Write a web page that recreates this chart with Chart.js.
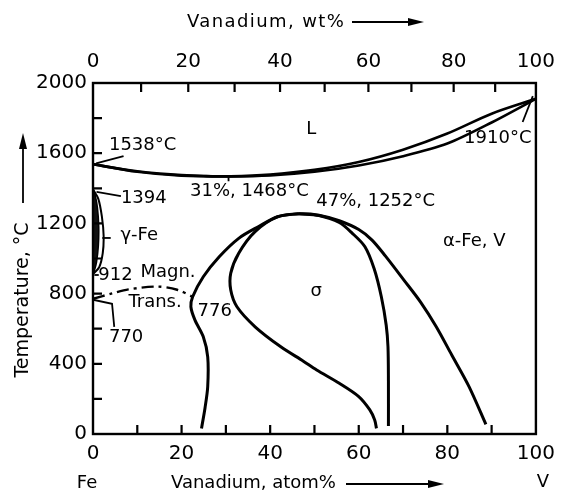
<!DOCTYPE html>
<html>
<head>
<meta charset="utf-8">
<script src="https://cdn.jsdelivr.net/npm/chart.js@4/dist/chart.umd.min.js"></script>
<style>
html,body{margin:0;padding:0;background:#fff;}
#wrap{position:relative;width:564px;height:495px;}
</style>
</head>
<body>
<div id="wrap"><canvas id="chart" width="564" height="495"></canvas></div>
<script>
// Fe-V phase diagram, x = atom% V, y = temperature in degC
const liquidusAt = [0, 5, 10, 15, 20, 25, 31, 40, 50, 60, 70, 80, 90, 100];
const liquidusT  = [1538, 1515, 1497, 1484, 1475, 1470, 1468, 1478, 1505, 1550, 1620, 1712, 1825, 1910];
const solidusAt  = [0, 10, 20, 31, 40, 50, 60, 70, 80, 90, 100];
const solidusT   = [1538, 1494, 1472, 1468, 1473, 1494, 1530, 1583, 1655, 1775, 1910];

const gammaInnerAt = [0, 0.5, 1.0, 1.3, 1.2, 0.8, 0.3, 0, 0];
const gammaInnerT  = [1394, 1360, 1290, 1180, 1070, 980, 930, 912, 1394];
const gammaOuterAt = [0, 1.2, 2.0, 2.4, 2.2, 1.4, 0];
const gammaOuterT  = [1394, 1340, 1240, 1130, 1030, 950, 912];

const alphaSigmaAt = [24.5, 25.3, 25.9, 25.9, 24.9, 23.0, 22.1, 22.5, 24.9, 28.5, 32.9, 37.3, 41.7, 46.5, 51, 55.6, 60, 63, 66, 70.2, 74, 77.5, 81, 84.9, 88.7];
const alphaSigmaT  = [32, 150, 270, 440, 554, 650, 725, 782, 896, 1010, 1115, 1181, 1238, 1255, 1247, 1215, 1165, 1105, 1015, 877, 750, 611, 450, 270, 55];

const sigmaLeftAt = [64, 63.6, 62.5, 60, 55.6, 50.5, 47.5, 42.4, 36.6, 32.5, 31.1, 31.1, 32.9, 36.6, 41.7, 46.5];
const sigmaLeftT  = [32, 80, 137, 213, 289, 365, 415, 497, 611, 725, 820, 916, 1030, 1153, 1238, 1255];
const sigmaRightAt = [46.5, 51, 55.6, 58.5, 61.4, 63.5, 65.1, 66.2, 66.6, 66.7, 66.7];
const sigmaRightT  = [1255, 1245, 1205, 1145, 1067, 940, 782, 620, 497, 300, 45];

const magnAt = [0, 4.3, 8, 14.6, 19, 22.5];
const magnT  = [770, 801, 824, 840, 822, 782];

// tick labels
const atomTicks = [0, 10, 20, 30, 40, 50, 60, 70, 80, 90, 100];
const tempTicks = [0, 200, 400, 600, 800, 1000, 1200, 1400, 1600, 1800, 2000];
const wtTickLabels = [0, 10, 20, 30, 40, 50, 60, 70, 80, 90, 100];
const wtTickPos = [0, 10.86, 21.51, 31.97, 42.23, 52.30, 62.18, 71.89, 81.43, 90.80, 100]; // atom% of each wt% tick

// leader lines
const leaders = [
  [[0.7, 1542], [6.9, 1584]],
  [[99.3, 1925], [97.0, 1778]],
  [[0.8, 1379], [6.3, 1356]],
  [[2.1, 1117], [4.0, 1117]],
  [[0.3, 906], [1.3, 906]],
  [[0, 765], [4.3, 742], [4.8, 610]],
  [[30.6, 1470], [30.6, 1440]]
];

const notes = [
  {text: "L", at: 49.3, t: 1738, align: "center"},
  {text: "1538°C", at: 3.6, t: 1647, align: "left"},
  {text: "1910°C", at: 99.0, t: 1687, align: "right"},
  {text: "1394", at: 6.3, t: 1345, align: "left"},
  {text: "31%, 1468°C", at: 21.9, t: 1381, align: "left"},
  {text: "47%, 1252°C", at: 50.4, t: 1324, align: "left"},
  {text: "γ-Fe", at: 6.2, t: 1130, align: "left"},
  {text: "α-Fe, V", at: 79, t: 1096, align: "left"},
  {text: "912", at: 1.2, t: 906, align: "left"},
  {text: "Magn.", at: 10.7, t: 923, align: "left"},
  {text: "Trans.", at: 8, t: 752, align: "left"},
  {text: "776", at: 23.6, t: 700, align: "left"},
  {text: "770", at: 3.6, t: 553, align: "left"},
  {text: "σ", at: 50.4, t: 811, align: "center"}
];

function pts(xs, ys) { return xs.map((x, i) => ({x: x, y: ys[i]})); }

const FONT = "'DejaVu Sans', sans-serif";
const NOTE_FONT = "18px 'DejaVu Sans', sans-serif";

function curve(xs, ys, w, extra) {
  return Object.assign({data: pts(xs, ys), showLine: true, borderColor: "#000", borderWidth: w,
    pointRadius: 0, tension: 0.3, fill: false}, extra || {});
}

const datasets = [
  curve(liquidusAt, liquidusT, 2.6),
  curve(solidusAt, solidusT, 2.6),
  curve(gammaInnerAt, gammaInnerT, 1.5, {fill: "shape", backgroundColor: "#111"}),
  curve(gammaOuterAt, gammaOuterT, 2),
  curve(alphaSigmaAt, alphaSigmaT, 3),
  curve(sigmaLeftAt, sigmaLeftT, 3),
  curve(sigmaRightAt, sigmaRightT, 3),
  curve(magnAt, magnT, 2.4, {borderDash: [12, 5, 3, 5]})
];
leaders.forEach(l => datasets.push(curve(l.map(p => p[0]), l.map(p => p[1]), 1.8, {tension: 0})));

function arrow(ctx, x1, y1, x2, y2) {
  ctx.beginPath(); ctx.moveTo(x1, y1); ctx.lineTo(x2, y2); ctx.stroke();
  const a = Math.atan2(y2 - y1, x2 - x1);
  ctx.beginPath();
  ctx.moveTo(x2 + 4 * Math.cos(a), y2 + 4 * Math.sin(a));
  ctx.lineTo(x2 - 12 * Math.cos(a) + 4 * Math.sin(a), y2 - 12 * Math.sin(a) - 4 * Math.cos(a));
  ctx.lineTo(x2 - 12 * Math.cos(a) - 4 * Math.sin(a), y2 - 12 * Math.sin(a) + 4 * Math.cos(a));
  ctx.closePath(); ctx.fill();
}

const decor = {
  id: "decor",
  afterDraw(chart) {
    const ctx = chart.ctx, ca = chart.chartArea;
    const xs = chart.scales.x, ys = chart.scales.y;
    ctx.save();
    ctx.strokeStyle = "#000"; ctx.fillStyle = "#000";
    ctx.lineWidth = 2.4;
    ctx.strokeRect(ca.left, ca.top, ca.width, ca.height);
    ctx.lineWidth = 2.2;
    ctx.beginPath();
    atomTicks.slice(1, -1).forEach(v => {
      const x = xs.getPixelForValue(v);
      ctx.moveTo(x, ca.bottom); ctx.lineTo(x, ca.bottom - 9);
    });
    tempTicks.slice(1, -1).forEach(v => {
      const y = ys.getPixelForValue(v);
      ctx.moveTo(ca.left, y); ctx.lineTo(ca.left + 9, y);
    });
    wtTickPos.slice(1, -1).forEach(v => {
      const x = xs.getPixelForValue(v);
      ctx.moveTo(x, ca.top); ctx.lineTo(x, ca.top + 9);
    });
    ctx.stroke();

    ctx.font = NOTE_FONT;
    ctx.textBaseline = "middle";
    notes.forEach(n => {
      ctx.textAlign = n.align;
      ctx.fillText(n.text, xs.getPixelForValue(n.at), ys.getPixelForValue(n.t));
    });

    ctx.font = "18px " + FONT;
    ctx.textAlign = "left";
    ctx.fillText("Vanadium, atom%", 171, 483);
    ctx.letterSpacing = "1.4px";
    ctx.fillText("Vanadium, wt%", 187, 22);
    ctx.letterSpacing = "0px";
    ctx.textAlign = "center";
    ctx.fillText("Fe", 87, 483);
    ctx.fillText("V", 543, 482);
    ctx.lineWidth = 1.8;
    arrow(ctx, 346, 484, 440, 484);
    arrow(ctx, 352, 22, 420, 22);
    arrow(ctx, 23, 203, 23, 137);
    ctx.translate(23, 300);
    ctx.rotate(-Math.PI / 2);
    ctx.font = "19px " + FONT;
    ctx.fillText("Temperature, °C", 0, 0);
    ctx.restore();
  }
};

const tickFont = {family: FONT, size: 20};

new Chart(document.getElementById("chart"), {
  type: "scatter",
  data: {datasets: datasets},
  options: {
    responsive: false,
    animation: false,
    layout: {padding: {right: 15, left: 0, top: 0, bottom: 0}},
    plugins: {legend: {display: false}, tooltip: {enabled: false}},
    scales: {
      x: {
        type: "linear", position: "bottom", min: 0, max: 100,
        grid: {display: false, drawTicks: false}, border: {display: false},
        afterBuildTicks: s => { s.ticks = atomTicks.map(v => ({value: v})); },
        ticks: {autoSkip: false, maxRotation: 0, color: "#000", font: tickFont, padding: 8,
          callback: v => (v % 20 === 0 ? String(v) : "")},
        afterFit: s => { s.height = 61; }
      },
      x2: {
        type: "linear", position: "top", min: 0, max: 100,
        grid: {display: false, drawTicks: false}, border: {display: false},
        afterBuildTicks: s => { s.ticks = wtTickPos.map(v => ({value: v})); },
        ticks: {autoSkip: false, maxRotation: 0, color: "#000", font: tickFont, padding: 9,
          callback: (v, i) => (i % 2 === 0 ? String(wtTickLabels[i]) : "")},
        afterFit: s => { s.height = 83; }
      },
      y: {
        type: "linear", position: "left", min: 0, max: 2000,
        grid: {display: false, drawTicks: false}, border: {display: false},
        afterBuildTicks: s => { s.ticks = tempTicks.map(v => ({value: v})); },
        ticks: {autoSkip: false, color: "#000", font: tickFont, padding: 6,
          callback: v => (v % 400 === 0 ? String(v) : "")},
        afterFit: s => { s.width = 93; }
      }
    }
  },
  plugins: [decor]
});
</script>
</body>
</html>
